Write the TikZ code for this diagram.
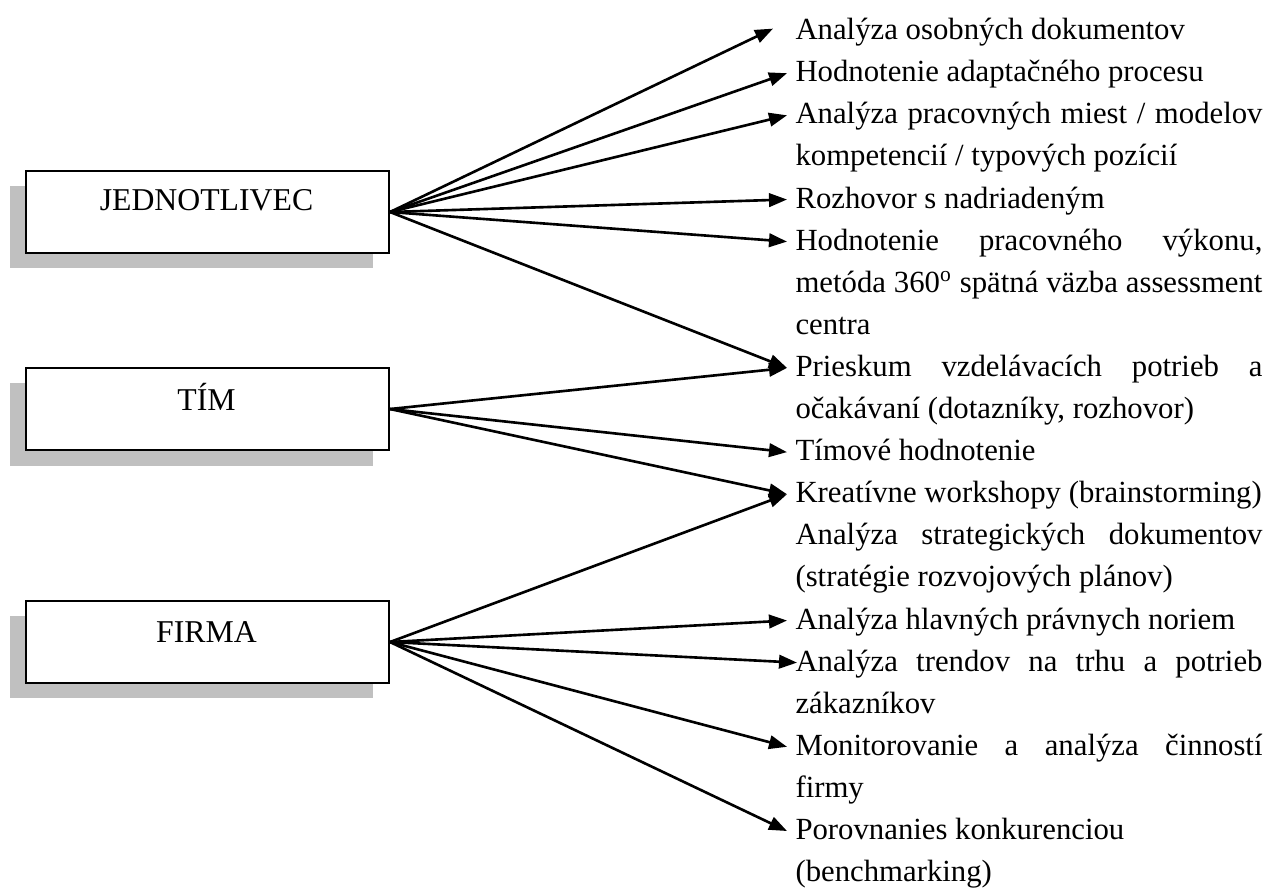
\documentclass[tikz,border=0pt]{standalone}
\usepackage{fontspec}
\setmainfont{Liberation Serif}
\usetikzlibrary{arrows.meta}
\definecolor{shadowgray}{RGB}{192,192,192}

% a full, justified line inside an item
\newcommand{\fullline}[1]{\makebox[\linewidth][s]{#1}}
% item text: lines separated by \\, first baseline is the node's base
\newcommand{\itemtext}[1]{\parbox[t]{186.8pt}{\raggedright #1}}

\begin{document}
\begin{tikzpicture}[x=0.4pt,y=-0.4pt,
  every node/.style={font=\fontsize{12.3}{16.84}\selectfont},
  box/.style={draw, line width=0.8pt, fill=white, inner sep=0pt,
    minimum width=145.2pt, minimum height=32.8pt, anchor=north west},
  shade/.style={fill=shadowgray},
  label/.style={anchor=base, inner sep=0pt, font=\fontsize{12.7}{15}\selectfont},
  item/.style={anchor=base west, inner sep=0pt},
  link/.style={line width=1.05pt, -{Triangle[length=7.2pt,width=5.4pt]}},
  tip/.style={xshift=-3.2pt, yshift=3.4pt}]

\useasboundingbox (0,0) rectangle (1264,889);

% shadows of the three boxes
\fill[shade] (10,186) rectangle (373,268);
\fill[shade] (10,383) rectangle (373,466);
\fill[shade] (10,616) rectangle (373,698);

% the three boxes and their labels
\node[box] (j) at (25,170) {};
\node[box] (t) at (25,367) {};
\node[box] (f) at (25,600) {};
\node[label] (jl) at (206.5,210) {JEDNOTLIVEC};
\node[label] (tl) at (206.5,410) {TÍM};
\node[label] (fl) at (206.5,642) {FIRMA};

% the right-hand list
\node[item] (a1)  at (795,39.6)  {\itemtext{Analýza osobných dokumentov}};
\node[item] (a2)  at (795,81.7)  {\itemtext{Hodnotenie adaptačného procesu}};
\node[item] (a3)  at (795,123.8) {\itemtext{\fullline{Analýza pracovných miest / modelov}\\kompetencií / typových pozícií}};
\node[item] (a4)  at (795,208.0) {\itemtext{Rozhovor s nadriadeným}};
\node[item] (a5)  at (795,250.1) {\itemtext{\fullline{Hodnotenie pracovného výkonu,}\\\fullline{metóda 360\textsuperscript{o} spätná väzba assessment}\\centra}};
\node[item] (a6)  at (795,376.4) {\itemtext{\fullline{Prieskum vzdelávacích potrieb a}\\očakávaní (dotazníky, rozhovor)}};
\node[item] (a7)  at (795,460.6) {\itemtext{Tímové hodnotenie}};
\node[item] (a8)  at (795,502.7) {\itemtext{Kreatívne workshopy (brainstorming)}};
\node[item] (a9)  at (795,544.8) {\itemtext{\fullline{Analýza strategických dokumentov}\\(stratégie rozvojových plánov)}};
\node[item] (a10) at (795,629.0) {\itemtext{Analýza hlavných právnych noriem}};
\node[item] (a11) at (795,671.1) {\itemtext{\fullline{Analýza trendov na trhu a potrieb}\\zákazníkov}};
\node[item] (a12) at (795,755.3) {\itemtext{\fullline{Monitorovanie a analýza činností}\\firmy}};
\node[item] (a13) at (795,839.5) {\itemtext{Porovnanies konkurenciou\\(benchmarking)}};

% connectors
\draw[link] (j.east) -- ([xshift=-8.8pt,yshift=4.4pt]a1.base west);
\draw[link] (j.east) -- ([tip]a2.base west);
\draw[link] (j.east) -- ([tip]a3.base west);
\draw[link] (j.east) -- ([tip]a4.base west);
\draw[link] (j.east) -- ([tip]a5.base west);
\draw[link] (j.east) -- ([tip]a6.base west);
\draw[link] (t.east) -- ([tip]a6.base west);
\draw[link] (t.east) -- ([tip]a7.base west);
\draw[link] (t.east) -- ([tip]a8.base west);
\draw[link] (f.east) -- ([tip]a8.base west);
\draw[link] (f.east) -- ([tip]a10.base west);
\draw[link] (f.east) -- ([xshift=0.8pt,yshift=3.4pt]a11.base west);
\draw[link] (f.east) -- ([tip]a12.base west);
\draw[link] (f.east) -- ([tip]a13.base west);
\end{tikzpicture}
\end{document}
